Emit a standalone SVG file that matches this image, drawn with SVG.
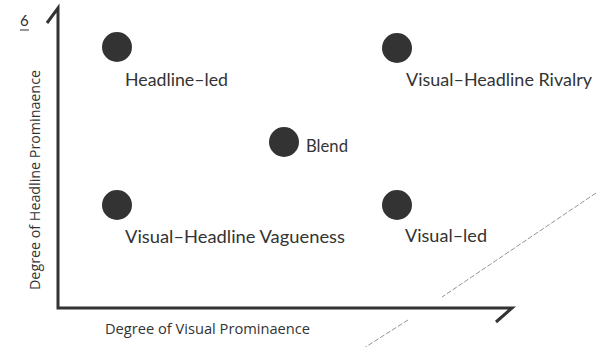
<svg xmlns="http://www.w3.org/2000/svg" width="596" height="347" viewBox="0 0 596 347">
  <style>
    .dot { fill: #333333; }
    .lbl { font-family: "Lato", "Open Sans", sans-serif; font-size: 18px; fill: #333333; }
    .axis-lbl { font-family: "Open Sans", "Liberation Sans", sans-serif; font-size: 14px; fill: #333333; }
    .axis { fill: none; stroke: #333333; stroke-width: 3; stroke-linejoin: miter; }
    .guide { fill: none; stroke: #777; stroke-width: 0.8; stroke-dasharray: 5 2; }
  </style>
  <rect width="596" height="347" fill="#ffffff"/>

  <!-- figure number -->
  <text x="20" y="26" font-family="Lato, sans-serif" font-size="15" fill="#333333">6</text>
  <line x1="20" y1="30" x2="29" y2="30" stroke="#333333" stroke-width="1"/>

  <g id="connectors">
    <!-- axes with angled tips -->
    <polyline class="axis" points="47,23 58,8 58,308 512,308 496,322"/>
    <!-- dashed diagonal guide, broken at the axis -->
    <line class="guide" x1="596" y1="193" x2="442" y2="297"/>
    <line class="guide" x1="408" y1="320" x2="364" y2="348"/>
  </g>

  <text class="axis-lbl" x="105" y="334" textLength="205" lengthAdjust="spacingAndGlyphs">Degree of Visual Prominaence</text>
  <text class="axis-lbl" transform="translate(40,290) rotate(-90)" textLength="220" lengthAdjust="spacingAndGlyphs">Degree of Headline Prominaence</text>

  <g id="headline-led">
    <circle class="dot" cx="117" cy="47" r="15"/>
    <text class="lbl" x="125" y="86" textLength="103" lengthAdjust="spacingAndGlyphs">Headline–led</text>
  </g>
  <g id="rivalry">
    <circle class="dot" cx="397" cy="48" r="15"/>
    <text class="lbl" x="406" y="86" textLength="186" lengthAdjust="spacingAndGlyphs">Visual–Headline Rivalry</text>
  </g>
  <g id="blend">
    <circle class="dot" cx="284" cy="142" r="15"/>
    <text class="lbl" x="306" y="152" textLength="42" lengthAdjust="spacingAndGlyphs">Blend</text>
  </g>
  <g id="vagueness">
    <circle class="dot" cx="117" cy="205" r="15"/>
    <text class="lbl" x="125" y="243" textLength="220" lengthAdjust="spacingAndGlyphs">Visual–Headline Vagueness</text>
  </g>
  <g id="visual-led">
    <circle class="dot" cx="397" cy="205" r="15"/>
    <text class="lbl" x="405" y="242" textLength="82" lengthAdjust="spacingAndGlyphs">Visual–led</text>
  </g>
</svg>
